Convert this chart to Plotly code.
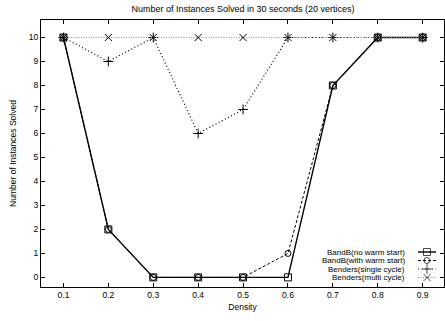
import plotly.graph_objects as go

density = [0.1, 0.2, 0.3, 0.4, 0.5, 0.6, 0.7, 0.8, 0.9]
bandb_no_warm = [10, 2, 0, 0, 0, 0, 8, 10, 10]
bandb_warm = [10, 2, 0, 0, 0, 1, 8, 10, 10]
benders_single = [10, 9, 10, 6, 7, 10, 10, 10, 10]
benders_multi = [10, 10, 10, 10, 10, 10, 10, 10, 10]
x_ticks = [0.1, 0.2, 0.3, 0.4, 0.5, 0.6, 0.7, 0.8, 0.9]
y_ticks = list(range(0, 11))

series = [
    ("BandB(no warm start)", bandb_no_warm, "solid", "black", 1.4, "square-open", 7),
    ("BandB(with warm start)", bandb_warm, "3px,2px", "black", 1.0, "circle-open", 6),
    ("Benders(single cycle)", benders_single, "1px,2.5px", "black", 1.2, "cross-thin-open", 7),
    ("Benders(multi cycle)", benders_multi, "1px,1.5px", "#888888", 1.0, "x-thin-open", 7),
]

W, H = 445, 321
L, R, T, B = 41, 1, 20, 34
FONT = "Liberation Sans, Arial"

fig = go.Figure()
for name, ys, dash, col, lw, sym, ms in series:
    fig.add_trace(go.Scatter(
        x=density, y=ys, mode="lines+markers", name=name,
        line=dict(color=col, width=lw, dash=dash),
        marker=dict(symbol=sym, size=ms, color="black", line=dict(color="black", width=1)),
        showlegend=False,
    ))

# gnuplot-style legend (text right-aligned, sample on the right), in pixel coordinates on overlay axes
leg_y = [252, 260.5, 269, 277.5]
for (name, ys, dash, col, lw, sym, ms), py in zip(series, leg_y):
    fig.add_trace(go.Scatter(
        x=[418, 427, 436], y=[py, py, py], xaxis="x2", yaxis="y2",
        mode="lines+markers", showlegend=False, hoverinfo="skip",
        line=dict(color=col, width=lw, dash=dash),
        marker=dict(symbol=sym, size=[0, ms, 0], color="black", line=dict(color="black", width=1)),
    ))
    fig.add_annotation(x=406, y=py, xref="x2", yref="y2", text=name, showarrow=False,
                       xanchor="right", yanchor="middle", borderpad=0,
                       font=dict(size=8, color="black", family=FONT))

axis_common = dict(showgrid=False, zeroline=False, showline=True, linecolor="black", linewidth=1,
                   mirror="allticks", ticks="inside", ticklen=4, tickcolor="black",
                   tickfont=dict(size=8.5, color="black", family=FONT))

fig.update_layout(
    width=W, height=H,
    margin=dict(l=L, r=R, t=T, b=B),
    paper_bgcolor="white", plot_bgcolor="white",
    title=dict(text="Number of Instances Solved in 30 seconds (20 vertices)", x=243 / W, xanchor="center",
               y=1 - 9 / H, yanchor="middle",
               font=dict(size=9, color="black", family=FONT)),
    xaxis=dict(range=[0.05, 0.9475], tickvals=x_ticks, ticktext=[f"{v:.1f}" for v in x_ticks],
               title=dict(text="Density", standoff=4,
                          font=dict(size=8.5, color="black", family=FONT)),
               **axis_common),
    yaxis=dict(range=[-0.4, 10.73], tickvals=y_ticks,
               title=dict(text="Number of Instances Solved", standoff=10,
                          font=dict(size=8.5, color="black", family=FONT)),
               **axis_common),
    xaxis2=dict(overlaying="x", range=[L, W - R], visible=False, fixedrange=True),
    yaxis2=dict(overlaying="y", range=[H - B, T], visible=False, fixedrange=True),
    showlegend=False,
)

fig.write_html("out.html", config={"displayModeBar": False},
               post_script="document.body.style.margin='0px';document.body.style.padding='0px';")
